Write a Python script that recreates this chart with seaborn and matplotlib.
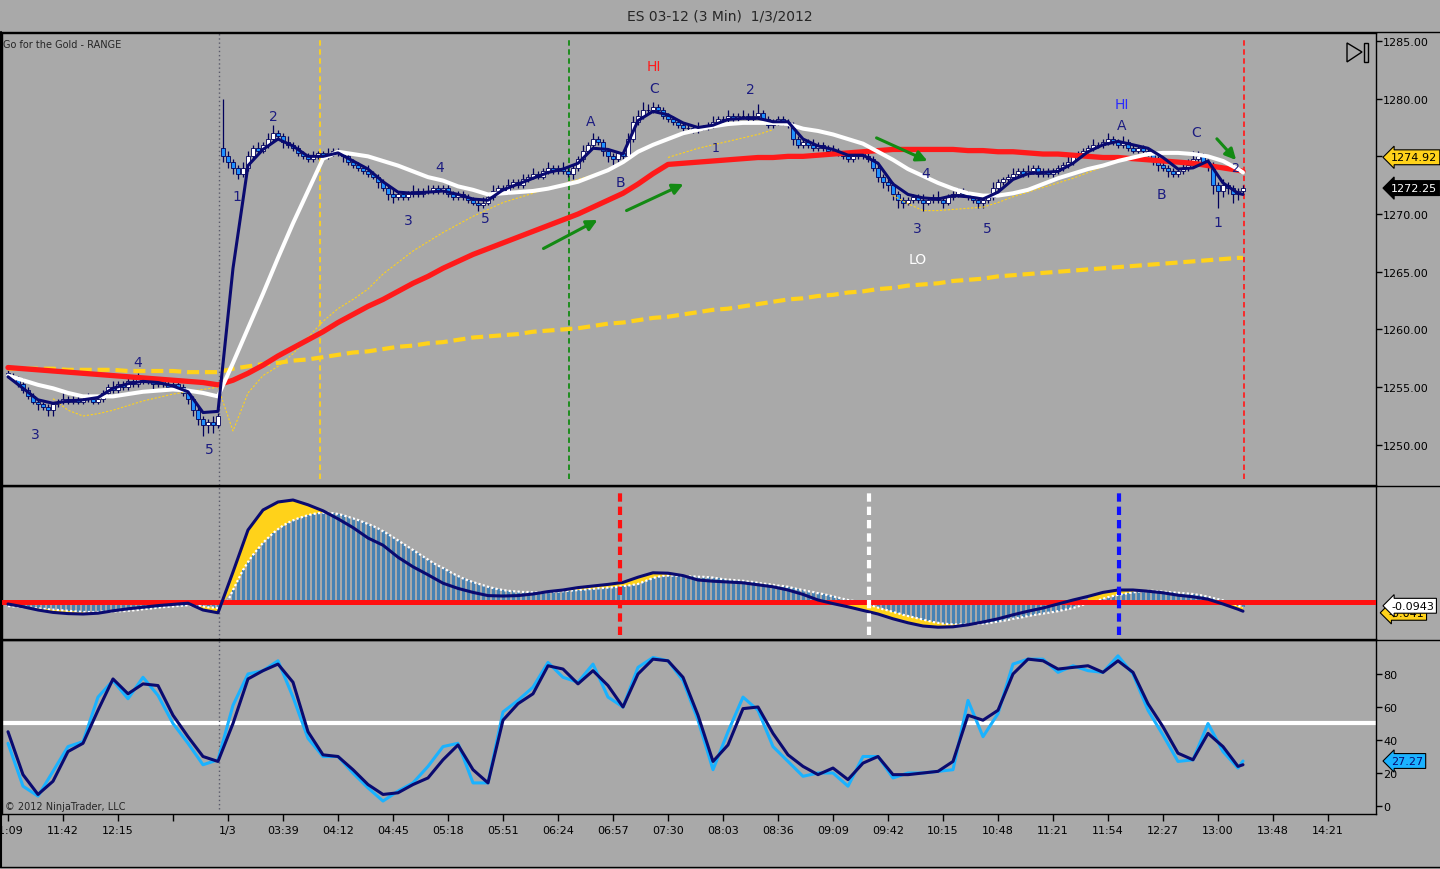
import numpy as np
import pandas as pd
import matplotlib
matplotlib.use("Agg")
import matplotlib.pyplot as plt
from matplotlib.lines import Line2D
from matplotlib.patches import Polygon, Rectangle
import seaborn as sns

###########################
### DATA (3 min bars)
###########################
closes = [
    1256.0, 1255.75, 1255.25, 1254.75, 1254.25, 1253.75, 1253.5, 1253.25, 1253.0, 1253.5,
    1253.75, 1254.0, 1253.75, 1254.0, 1253.75, 1254.0, 1254.0, 1253.75, 1254.0, 1254.5,
    1255.0, 1254.75, 1255.25, 1255.0, 1255.5, 1255.25, 1255.75, 1255.5, 1255.5, 1255.25,
    1255.5, 1255.25, 1255.0, 1255.25, 1255.0, 1254.5, 1254.0, 1253.0, 1252.25, 1251.75,
    1252.0, 1251.75, 1252.5, 1275.0, 1274.5, 1274.0, 1273.5, 1274.0, 1275.0, 1275.75,
    1275.5, 1276.0, 1276.5, 1277.0, 1276.75, 1276.25, 1276.0, 1275.75, 1275.25, 1275.0,
    1274.75, 1275.0, 1275.25, 1275.0, 1275.25, 1275.5, 1275.25, 1275.0, 1274.5, 1274.25,
    1274.0, 1273.75, 1273.5, 1273.25, 1272.75, 1272.25, 1271.75, 1271.5, 1271.75, 1271.5,
    1271.75, 1272.0, 1271.75, 1272.0, 1272.0, 1272.25, 1272.0, 1272.25, 1271.75, 1271.5,
    1271.75, 1271.5, 1271.25, 1271.0, 1270.75, 1271.0, 1271.5, 1272.0, 1272.25, 1272.0,
    1272.5, 1272.75, 1272.5, 1273.0, 1273.25, 1273.5, 1273.25, 1273.75, 1274.0, 1273.75,
    1274.0, 1273.75, 1273.5, 1274.0, 1274.75, 1275.5, 1276.0, 1276.5, 1276.25, 1275.5,
    1275.0, 1274.75, 1275.25, 1275.0, 1276.5, 1278.0, 1278.5, 1279.0, 1279.0, 1279.25,
    1279.0, 1278.5, 1278.25, 1278.0, 1277.75, 1277.5, 1277.5, 1277.25, 1277.5, 1277.5,
    1277.75, 1278.0, 1278.25, 1278.25, 1278.5, 1278.25, 1278.5, 1278.5, 1278.25, 1278.5,
    1278.75, 1278.25, 1277.75, 1278.0, 1278.25, 1278.0, 1277.75, 1276.5, 1276.0, 1276.25,
    1276.0, 1275.75, 1276.0, 1275.75, 1275.5, 1275.5, 1275.25, 1275.0, 1274.75, 1275.0,
    1275.25, 1275.0, 1274.75, 1274.0, 1273.25, 1272.75, 1272.5, 1271.75, 1271.25, 1271.0,
    1271.25, 1271.5, 1271.25, 1271.0, 1271.25, 1271.5, 1271.25, 1271.0, 1271.5, 1271.75,
    1272.0, 1271.75, 1271.5, 1271.25, 1271.0, 1271.25, 1271.5, 1272.25, 1272.75, 1273.0,
    1273.25, 1273.5, 1273.75, 1273.5, 1273.75, 1274.0, 1273.5, 1273.75, 1273.5, 1273.75,
    1274.0, 1274.25, 1274.5, 1275.0, 1275.25, 1275.5, 1275.75, 1276.0, 1276.0, 1276.25,
    1276.5, 1276.25, 1276.0, 1276.25, 1275.75, 1275.5, 1275.75, 1275.5, 1275.25, 1274.75,
    1274.25, 1274.0, 1273.75, 1273.5, 1273.75, 1274.0, 1274.25, 1274.75, 1275.0, 1274.5,
    1274.25, 1272.5, 1272.0, 1272.5, 1272.25, 1271.75, 1272.0, 1272.25,
]
first_open = 1256.25
gap_bar = 43          # first bar of the 1/3 session
gap_open = 1275.75
tick_size = 0.25
# wick lengths in ticks above / below the body
upper_ticks = [
    1, 1, 1, 2, 1, 1, 1, 1, 1, 1, 1, 2, 1, 1, 1, 1, 2, 1, 1, 1,
    1, 2, 1, 1, 2, 1, 2, 1, 1, 1, 1, 1, 1, 2, 1, 1, 1, 1, 1, 1,
    1, 2, 1, 17, 2, 1, 1, 2, 2, 1, 2, 1, 2, 3, 1, 1, 2, 1, 1, 1,
    1, 2, 1, 1, 2, 1, 1, 1, 1, 1, 1, 1, 2, 1, 1, 1, 1, 2, 1, 1,
    1, 2, 1, 1, 2, 1, 1, 1, 1, 1, 1, 1, 1, 1, 1, 2, 1, 2, 1, 1,
    2, 1, 1, 2, 1, 2, 1, 1, 2, 1, 1, 2, 1, 1, 1, 2, 1, 2, 1, 1,
    1, 1, 1, 1, 2, 2, 2, 3, 2, 2, 1, 1, 1, 1, 1, 1, 1, 1, 2, 1,
    1, 2, 1, 1, 2, 1, 1, 2, 1, 2, 3, 1, 1, 1, 1, 1, 1, 1, 1, 1,
    1, 2, 1, 1, 1, 2, 1, 1, 1, 1, 1, 1, 1, 1, 1, 1, 1, 1, 1, 1,
    1, 1, 1, 2, 1, 1, 2, 1, 1, 1, 1, 1, 1, 1, 1, 1, 1, 2, 1, 1,
    1, 2, 1, 1, 2, 1, 1, 1, 1, 1, 1, 1, 2, 1, 1, 1, 1, 2, 1, 1,
    2, 1, 1, 2, 1, 1, 1, 1, 1, 1, 1, 1, 1, 1, 1, 2, 2, 3, 2, 1,
    1, 1, 1, 2, 1, 1, 1, 1,
]
lower_ticks = [
    1, 1, 1, 1, 1, 1, 2, 1, 2, 2, 1, 1, 1, 1, 1, 1, 1, 1, 1, 1,
    1, 1, 1, 1, 1, 1, 1, 1, 1, 2, 1, 1, 1, 1, 1, 1, 2, 2, 2, 4,
    3, 3, 1, 2, 2, 2, 2, 1, 1, 1, 1, 1, 1, 1, 1, 2, 1, 1, 1, 1,
    1, 1, 1, 1, 1, 1, 1, 2, 1, 1, 1, 1, 1, 1, 2, 1, 2, 2, 1, 1,
    1, 1, 1, 1, 1, 1, 1, 1, 1, 1, 1, 1, 1, 1, 2, 1, 1, 1, 1, 1,
    1, 1, 1, 1, 1, 1, 1, 1, 1, 1, 1, 1, 1, 2, 1, 1, 1, 1, 1, 2,
    2, 2, 1, 1, 1, 1, 1, 1, 1, 1, 1, 1, 1, 1, 1, 2, 1, 1, 1, 1,
    1, 1, 1, 1, 1, 1, 1, 1, 1, 1, 1, 1, 1, 1, 1, 1, 1, 2, 1, 1,
    1, 1, 1, 1, 1, 1, 1, 1, 1, 1, 1, 1, 1, 1, 2, 2, 2, 2, 3, 2,
    1, 1, 1, 3, 1, 1, 1, 2, 1, 1, 1, 1, 1, 1, 2, 2, 1, 1, 1, 1,
    1, 1, 1, 1, 1, 1, 1, 1, 1, 1, 1, 1, 1, 1, 1, 1, 1, 1, 1, 1,
    1, 1, 1, 1, 1, 1, 1, 1, 1, 2, 2, 1, 2, 1, 1, 1, 1, 1, 1, 1,
    2, 3, 6, 2, 2, 3, 2, 1,
]

# indicator lines, sampled every 3 bars plus the last bar
ma_bars = list(range(0, 248, 3)) + [247]
fast_ma = [
    1255.9, 1254.9, 1253.9, 1253.6, 1253.8, 1253.9, 1254.1, 1254.9, 1255.3, 1255.5,
    1255.4, 1255.1, 1254.6, 1252.8, 1252.9, 1265.3, 1274.2, 1275.6, 1276.5, 1275.9,
    1275.0, 1275.0, 1275.3, 1274.6, 1273.9, 1272.8, 1271.9, 1271.8, 1271.9, 1272.0,
    1271.7, 1271.3, 1271.2, 1272.1, 1272.6, 1273.1, 1273.6, 1273.9, 1274.4, 1275.7,
    1275.6, 1275.2, 1278.1, 1278.9, 1278.6, 1277.9, 1277.5, 1277.7, 1278.2, 1278.3,
    1278.3, 1278.0, 1278.0, 1276.5, 1275.9, 1275.6, 1275.1, 1275.1, 1274.4, 1272.6,
    1271.7, 1271.4, 1271.3, 1271.6, 1271.5, 1271.3, 1271.9, 1273.0, 1273.5, 1273.6,
    1273.7, 1274.4, 1275.4, 1276.0, 1276.3, 1276.0, 1275.7, 1274.9, 1273.9, 1274.0,
    1274.6, 1272.7, 1271.8, 1271.7,
]
slow_ma = [
    1256.0, 1255.6, 1255.2, 1254.9, 1254.5, 1254.2, 1254.2, 1254.2, 1254.4, 1254.6,
    1254.7, 1254.8, 1254.7, 1254.5, 1254.2, 1257.1, 1260.1, 1263.1, 1266.2, 1269.2,
    1272.0, 1274.8, 1275.4, 1275.2, 1275.0, 1274.6, 1274.2, 1273.7, 1273.2, 1272.9,
    1272.4, 1272.1, 1271.7, 1271.8, 1271.9, 1272.0, 1272.2, 1272.5, 1272.8, 1273.3,
    1273.8, 1274.5, 1275.4, 1276.0, 1276.5, 1277.0, 1277.3, 1277.6, 1277.8, 1277.9,
    1277.9, 1277.9, 1277.8, 1277.4, 1277.2, 1276.9, 1276.5, 1276.1, 1275.4, 1274.7,
    1273.9, 1273.3, 1272.7, 1272.2, 1271.8, 1271.6, 1271.6, 1271.8, 1272.1, 1272.6,
    1273.1, 1273.5, 1273.9, 1274.2, 1274.6, 1274.9, 1275.2, 1275.3, 1275.3, 1275.2,
    1275.0, 1274.6, 1273.9, 1273.6,
]
trend_ma = [
    1256.7, 1256.6, 1256.5, 1256.4, 1256.3, 1256.2, 1256.1, 1256.0, 1255.9, 1255.8,
    1255.7, 1255.6, 1255.5, 1255.4, 1255.2, 1255.6, 1256.2, 1256.9, 1257.7, 1258.4,
    1259.1, 1259.8, 1260.6, 1261.3, 1262.0, 1262.6, 1263.3, 1264.0, 1264.6, 1265.3,
    1265.9, 1266.5, 1267.0, 1267.5, 1268.0, 1268.5, 1269.0, 1269.5, 1270.0, 1270.6,
    1271.2, 1271.8, 1272.6, 1273.5, 1274.3, 1274.4, 1274.5, 1274.6, 1274.7, 1274.8,
    1274.9, 1274.9, 1275.0, 1275.0, 1275.1, 1275.2, 1275.3, 1275.4, 1275.5, 1275.6,
    1275.6, 1275.6, 1275.6, 1275.6, 1275.5, 1275.5, 1275.4, 1275.4, 1275.3, 1275.2,
    1275.2, 1275.1, 1275.0, 1274.9, 1274.9, 1274.8, 1274.7, 1274.6, 1274.5, 1274.4,
    1274.2, 1274.0, 1273.8, 1273.7,
]
long_ma = [
    1256.6, 1256.6, 1256.6, 1256.6, 1256.5, 1256.5, 1256.5, 1256.5, 1256.4, 1256.4,
    1256.4, 1256.4, 1256.3, 1256.3, 1256.3, 1256.6, 1256.8, 1257.0, 1257.1, 1257.3,
    1257.4, 1257.6, 1257.8, 1258.0, 1258.1, 1258.3, 1258.5, 1258.6, 1258.8, 1258.9,
    1259.1, 1259.3, 1259.4, 1259.5, 1259.6, 1259.8, 1259.9, 1260.0, 1260.1, 1260.3,
    1260.5, 1260.6, 1260.8, 1261.0, 1261.1, 1261.3, 1261.5, 1261.7, 1261.8, 1262.0,
    1262.2, 1262.4, 1262.6, 1262.7, 1262.9, 1263.0, 1263.2, 1263.3, 1263.5, 1263.6,
    1263.8, 1263.9, 1264.0, 1264.2, 1264.3, 1264.4, 1264.6, 1264.7, 1264.8, 1264.9,
    1265.0, 1265.1, 1265.2, 1265.3, 1265.4, 1265.5, 1265.6, 1265.7, 1265.8, 1265.9,
    1266.0, 1266.1, 1266.2, 1266.2,
]
nan = np.nan
band = [
    nan, nan, nan, 1254.0, 1253.0, 1252.5, 1252.7, 1253.0, 1253.4, 1253.8,
    1254.1, 1254.4, 1254.6, 1254.8, 1255.0, 1251.2, 1254.5, 1256.0, 1256.8, 1257.9,
    1259.3, 1260.7, 1261.8, 1262.6, 1263.5, 1264.8, 1265.8, 1266.8, 1267.6, 1268.4,
    1269.1, 1269.8, 1270.4, 1271.0, 1271.4, 1271.8, 1272.2, 1272.6, 1273.0, 1273.4,
    1273.8, 1274.4, nan, nan, 1274.9, 1275.3, 1275.7, 1276.0, 1276.3, 1276.6,
    1276.9, 1277.3, nan, nan, nan, nan, nan, nan, nan, 1271.6,
    1270.9, 1270.3, 1270.3, 1270.4, 1270.5, 1270.6, 1271.0, 1271.5, 1271.9, 1272.3,
    1272.7, 1273.1, 1273.6, 1274.1, nan, nan, nan, nan, nan, nan,
    nan, nan, nan, nan,
]

macd_hist = [
    -0.10, -0.11, -0.12, -0.13, -0.14, -0.15, -0.16, -0.17, -0.18, -0.19,
    -0.20, -0.21, -0.22, -0.23, -0.24, -0.25, -0.25, -0.25, -0.25, -0.24,
    -0.24, -0.24, -0.23, -0.23, -0.22, -0.21, -0.20, -0.18, -0.17, -0.16,
    -0.14, -0.13, -0.12, -0.11, -0.10, -0.09, -0.08, -0.08, -0.09, -0.11,
    -0.13, -0.14, -0.15, 0.00, 0.03, 0.30, 0.55, 0.80, 1.00, 1.18,
    1.33, 1.48, 1.60, 1.72, 1.82, 1.91, 1.98, 2.04, 2.09, 2.13,
    2.17, 2.20, 2.22, 2.23, 2.23, 2.22, 2.20, 2.17, 2.13, 2.09,
    2.05, 2.00, 1.95, 1.90, 1.84, 1.77, 1.70, 1.62, 1.54, 1.46,
    1.38, 1.30, 1.22, 1.14, 1.06, 0.98, 0.91, 0.85, 0.78, 0.71,
    0.65, 0.59, 0.54, 0.50, 0.46, 0.42, 0.38, 0.35, 0.32, 0.30,
    0.28, 0.27, 0.26, 0.25, 0.25, 0.24, 0.24, 0.24, 0.25, 0.25,
    0.26, 0.27, 0.28, 0.29, 0.30, 0.31, 0.32, 0.33, 0.34, 0.35,
    0.36, 0.37, 0.38, 0.40, 0.41, 0.43, 0.45, 0.50, 0.55, 0.60,
    0.63, 0.65, 0.66, 0.66, 0.65, 0.65, 0.64, 0.64, 0.63, 0.63,
    0.62, 0.61, 0.59, 0.57, 0.56, 0.55, 0.54, 0.53, 0.51, 0.50,
    0.48, 0.46, 0.45, 0.43, 0.41, 0.40, 0.38, 0.35, 0.32, 0.30,
    0.27, 0.25, 0.22, 0.20, 0.17, 0.14, 0.11, 0.08, 0.05, 0.03,
    0.00, -0.03, -0.06, -0.10, -0.14, -0.18, -0.21, -0.25, -0.28, -0.32,
    -0.35, -0.38, -0.41, -0.44, -0.47, -0.50, -0.52, -0.54, -0.55, -0.56,
    -0.56, -0.56, -0.56, -0.55, -0.55, -0.54, -0.53, -0.51, -0.49, -0.47,
    -0.45, -0.42, -0.40, -0.38, -0.35, -0.33, -0.31, -0.29, -0.27, -0.25,
    -0.23, -0.20, -0.18, -0.15, -0.11, -0.07, -0.03, 0.00, 0.04, 0.08,
    0.12, 0.15, 0.18, 0.20, 0.22, 0.24, 0.26, 0.27, 0.28, 0.28,
    0.27, 0.26, 0.25, 0.24, 0.23, 0.22, 0.21, 0.20, 0.18, 0.16,
    0.13, 0.10, 0.07, 0.04, 0.00, -0.04, -0.09, -0.13,
]
macd_line = [
    -0.05, -0.12, -0.20, -0.26, -0.29, -0.30, -0.28, -0.22, -0.17, -0.13,
    -0.09, -0.06, -0.03, -0.20, -0.27, 0.75, 1.80, 2.30, 2.50, 2.55,
    2.43, 2.28, 2.08, 1.86, 1.60, 1.42, 1.12, 0.88, 0.68, 0.47,
    0.34, 0.24, 0.16, 0.15, 0.16, 0.20, 0.26, 0.30, 0.36, 0.40,
    0.44, 0.49, 0.62, 0.73, 0.72, 0.66, 0.55, 0.52, 0.50, 0.48,
    0.43, 0.38, 0.30, 0.19, 0.05, -0.04, -0.12, -0.21, -0.30, -0.42,
    -0.52, -0.60, -0.63, -0.62, -0.57, -0.50, -0.42, -0.32, -0.23, -0.15,
    -0.05, 0.05, 0.14, 0.24, 0.30, 0.30, 0.27, 0.23, 0.17, 0.13,
    0.07, -0.05, -0.18, -0.23,
]

stoch_k = [
    38, 12, 6, 21, 36, 39, 66, 76, 65, 78,
    67, 50, 38, 25, 28, 61, 80, 82, 88, 66,
    41, 30, 30, 20, 11, 3, 9, 14, 24, 36,
    38, 14, 14, 57, 64, 72, 87, 78, 75, 86,
    66, 60, 84, 90, 88, 76, 52, 22, 45, 66,
    58, 36, 27, 18, 20, 20, 12, 30, 30, 17,
    20, 20, 21, 22, 64, 42, 56, 86, 89, 89,
    81, 85, 82, 81, 91, 80, 58, 43, 27, 28,
    50, 33, 23, 27.27,
]
stoch_d = [
    45, 19, 7, 15, 33, 38, 58, 77, 68, 74,
    73, 55, 42, 30, 27, 50, 77, 82, 86, 75,
    45, 31, 30, 22, 13, 7, 8, 13, 17, 28,
    37, 22, 14, 52, 62, 68, 85, 83, 74, 82,
    73, 60, 80, 89, 88, 78, 55, 27, 37, 59,
    60, 44, 31, 24, 19, 23, 16, 26, 30, 19,
    19, 20, 21, 27, 55, 52, 58, 80, 89, 88,
    83, 84, 85, 81, 88, 81, 62, 48, 32, 28,
    44, 36, 24, 25,
]

time_ticks = list(range(0, 265, 11))
time_labels = ["11:09", "11:42", "12:15", "", "1/3", "03:39", "04:12", "04:45",
               "05:18", "05:51", "06:24", "06:57", "07:30", "08:03", "08:36",
               "09:09", "09:42", "10:15", "10:48", "11:21", "11:54", "12:27",
               "13:00", "13:48", "14:21"]
price_ticks = [1250, 1255, 1260, 1265, 1270, 1275, 1280, 1285]
price_tick_labels = ["1250.00", "1255.00", "1260.00", "1265.00", "1270.00", "",
                     "1280.00", "1285.00"]   # 1275 sits under the price flag
stoch_ticks = [0, 20, 40, 60, 80]

# (bar, price, text, colour, size) wave counts written on the chart
wave_labels = [
    (5.4, 1250.9, "3", "#1c1c80", 10), (26.0, 1257.2, "4", "#1c1c80", 10),
    (40.2, 1249.6, "5", "#1c1c80", 10), (45.8, 1271.6, "1", "#1c1c80", 10),
    (53.0, 1278.5, "2", "#1c1c80", 10), (80.0, 1269.5, "3", "#1c1c80", 10),
    (86.4, 1274.1, "4", "#1c1c80", 10), (95.4, 1269.7, "5", "#1c1c80", 10),
    (116.6, 1278.1, "A", "#1c1c80", 10), (122.4, 1272.8, "B", "#1c1c80", 10),
    (129.2, 1280.9, "C", "#1c1c80", 10), (129.2, 1282.8, "HI", "#ff1a1a", 10),
    (148.4, 1280.8, "2", "#1c1c80", 10), (141.6, 1275.8, "1", "#1c1c80", 9),
    (183.6, 1273.6, "4", "#1c1c80", 10), (181.8, 1268.8, "3", "#1c1c80", 10),
    (195.8, 1268.8, "5", "#1c1c80", 10), (182.0, 1266.1, "LO", "white", 10),
    (222.8, 1279.5, "HI", "#2a2aff", 10), (222.8, 1277.7, "A", "#1c1c80", 10),
    (230.6, 1271.7, "B", "#1c1c80", 10), (237.6, 1277.1, "C", "#1c1c80", 10),
    (245.4, 1274.0, "2", "#1c1c80", 9), (242.0, 1269.3, "1", "#1c1c80", 10),
]
# green arrows: start (bar, price) -> end (bar, price)
arrows = [
    ((106.6, 1266.9), (118.4, 1269.6)),
    ((123.2, 1270.2), (135.6, 1272.7)),
    ((173.2, 1276.7), (184.4, 1274.5)),
    ((241.4, 1276.7), (246.0, 1274.5)),
]
session_break = 42.2
price_events = [(62.4, "#ffd21a"), (112.2, "#138a13"), (247.2, "#ff2020")]
macd_events = [(122.4, "#ff1010"), (172.2, "white"), (222.2, "#1010ff")]

###########################
### FRAME
###########################
bg = "#a9a9a9"
navy = "#0a0a70"
sns.set_theme(style="ticks", rc={"axes.facecolor": bg, "figure.facecolor": bg,
                                 "axes.edgecolor": "black", "xtick.color": "black",
                                 "ytick.color": "black"})
plt.rcParams["font.family"] = ["DejaVu Sans"]

W, H = 1440, 870
fig = plt.figure(figsize=(W / 100, H / 100), dpi=100)

def add_panel(top, bottom, left=2, right=1376):
    return fig.add_axes([left / W, 1 - bottom / H, (right - left) / W, (bottom - top) / H])

ax = add_panel(34, 486)
ax_m = add_panel(487, 640)
ax_s = add_panel(641, 815)

x_lo, x_hi = -1.2, 273.6
for a in (ax, ax_m, ax_s):
    a.set_xlim(x_lo, x_hi)
    a.set_facecolor(bg)
    for s in a.spines.values():
        s.set_color("black")
        s.set_linewidth(1)
    a.yaxis.tick_right()
    a.tick_params(axis="y", direction="out", length=4, width=1, labelsize=8, pad=1)

###########################
### PRICE PANEL
###########################
bars = pd.DataFrame({"close": closes})
bars["open"] = bars["close"].shift(1)
bars.loc[0, "open"] = first_open
bars.loc[gap_bar, "open"] = gap_open
bars["high"] = bars[["open", "close"]].max(axis=1) + np.array(upper_ticks) * tick_size
bars["low"] = bars[["open", "close"]].min(axis=1) - np.array(lower_ticks) * tick_size
idx = bars.index.values
up = bars["close"] >= bars["open"]

ax.vlines(idx, bars["low"], bars["high"], color="#00005a", lw=0.9, zorder=2)
for mask, fc in ((up, "white"), (~up, "#1e90ff")):
    sub = bars[mask]
    ax.bar(sub.index.values, (sub["close"] - sub["open"]).abs(),
           bottom=sub[["open", "close"]].min(axis=1), width=0.74,
           color=fc, edgecolor="#00005a", linewidth=0.6, zorder=3)

ax.plot(ma_bars, band, color="#ffd21a", lw=0.8, ls=(0, (2, 1.5)), zorder=4)
ax.plot(ma_bars, long_ma, color="#ffd21a", lw=3, ls=(0, (2.9, 1.4)), zorder=4,
        solid_capstyle="butt")
sns.lineplot(x=ma_bars, y=trend_ma, ax=ax, color="#ff1a1a", lw=3.8, errorbar=None, zorder=5)
sns.lineplot(x=ma_bars, y=slow_ma, ax=ax, color="white", lw=2.9, errorbar=None, zorder=6)
sns.lineplot(x=ma_bars, y=fast_ma, ax=ax, color=navy, lw=2.2, errorbar=None, zorder=7)

ax.set_ylim(1246.52, 1285.69)
ax.set_yticks(price_ticks)
ax.set_yticklabels(price_tick_labels)
ax.set_xticks([])
ax.set_xlabel("")
ax.set_ylabel("")

ax.axvline(session_break, color="#5a5a6a", lw=1, ls=(0, (1, 2)), zorder=1)
for bar_pos, col in price_events:
    ax.axvline(bar_pos, ymin=0.013, ymax=0.987, color=col, lw=1.3, ls=(0, (3, 2)), zorder=1)

for bx, py, txt, col, fs in wave_labels:
    ax.text(bx, py, txt, color=col, fontsize=fs, ha="center", va="center", zorder=9)
for (x0, y0), (x1, y1) in arrows:
    ax.annotate("", xy=(x1, y1), xytext=(x0, y0), zorder=9,
                arrowprops=dict(arrowstyle="-|>", color="#138a13", lw=2.2, mutation_scale=16))

ax.text(0.001, 0.976, "Go for the Gold - RANGE", transform=ax.transAxes, fontsize=7,
        ha="left", va="center")
# go-to-end icon
ax.add_patch(Polygon([[0.9789, 0.978], [0.9898, 0.958], [0.9789, 0.936]], closed=True,
                     fill=False, ec="black", lw=1, transform=ax.transAxes))
ax.add_patch(Rectangle((0.9913, 0.936), 0.0029, 0.042, fill=False, ec="black", lw=1,
                       transform=ax.transAxes))

def flag(a, y, text, fc, tc, x=1.011, ec="black", z=10):
    a.text(x, y, text, transform=a.get_yaxis_transform(), ha="left", va="center",
           fontsize=8, color=tc, clip_on=False, zorder=z,
           bbox=dict(boxstyle="larrow,pad=0.22", fc=fc, ec=ec, lw=0.8))

flag(ax, 1274.92, "1274.92", "#ffd21a", "black")
flag(ax, 1272.25, "1272.25", "black", "white")

###########################
### MACD PANEL
###########################
hist = np.array(macd_hist)
hist_s = hist[ma_bars]
line_s = np.array(macd_line)
ax_m.fill_between(ma_bars, line_s, hist_s, where=np.abs(line_s) > np.abs(hist_s),
                  interpolate=True, color="#ffd21a", lw=0, zorder=1)
ax_m.bar(np.arange(len(hist)), hist, width=0.6, color="#4682b4", lw=0, zorder=2)
ax_m.plot(np.arange(len(hist)), hist, color="white", lw=1.6, ls=(0, (1, 1)), zorder=3)
ax_m.axhline(0, color="#ff1010", lw=3.6, zorder=4)
sns.lineplot(x=ma_bars, y=macd_line, ax=ax_m, color=navy, lw=2.2, errorbar=None, zorder=5)
for bar_pos, col in macd_events:
    ax_m.axvline(bar_pos, ymin=0.026, ymax=0.96, color=col, lw=3, ls=(0, (2, 1.2)), zorder=6)
ax_m.axvline(session_break, color="#5a5a6a", lw=1, ls=(0, (1, 2)), zorder=1)
ax_m.set_ylim(-0.925, 2.9)
ax_m.set_yticks([])
ax_m.set_xticks([])
ax_m.set_xlabel("")
ax_m.set_ylabel("")
flag(ax_m, -0.27, "-0.041", "#ffd21a", "black", x=1.009, z=9)
flag(ax_m, -0.0943, "-0.0943", "white", "black", x=1.011, z=10)

###########################
### STOCHASTIC PANEL
###########################
ax_s.axhline(50, color="white", lw=3, zorder=1)
ax_s.axvline(session_break, ymin=0.03, color="#5a5a6a", lw=1, ls=(0, (1, 2)), zorder=1)
sns.lineplot(x=ma_bars, y=stoch_k, ax=ax_s, color="#1ab2ff", lw=2.2, errorbar=None, zorder=2)
sns.lineplot(x=ma_bars, y=stoch_d, ax=ax_s, color=navy, lw=2.2, errorbar=None, zorder=3)
ax_s.set_ylim(-4.85, 100.6)
ax_s.set_yticks(stoch_ticks)
ax_s.set_xticks(time_ticks)
ax_s.set_xticklabels(time_labels)
ax_s.tick_params(axis="x", direction="out", length=5, width=1, labelsize=8, pad=3)
ax_s.set_xlabel("")
ax_s.set_ylabel("")
ax_s.text(0.002, 0.045, "\u00a9 2012 NinjaTrader, LLC", transform=ax_s.transAxes,
          fontsize=7, ha="left", va="center")
flag(ax_s, 27.27, "27.27", "#1ab2ff", "#0a0a70")

###########################
### OUTER LINES + TITLE
###########################
for yy in (33, 486.5, 640.5, 868):
    fig.add_artist(Line2D([0, 1], [1 - yy / H, 1 - yy / H], color="black", lw=1,
                          transform=fig.transFigure))
fig.add_artist(Line2D([0.5 / W, 0.5 / W], [1 - 868 / H, 1 - 33 / H], color="black", lw=1.5,
                      transform=fig.transFigure))
fig.text(0.5, 1 - 16 / H, "ES 03-12 (3 Min)  1/3/2012", ha="center", va="center", fontsize=10)

fig.savefig("out.png", dpi=100, facecolor=bg)
plt.close(fig)
